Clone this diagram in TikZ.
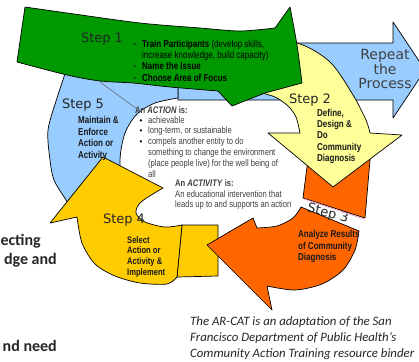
\documentclass[tikz,border=0pt]{standalone}
\usepackage{fontspec}
\setmainfont{Liberation Sans}
\newfontfamily\stepfont{DejaVu Sans}
\newfontfamily\narrowfont[FakeStretch=0.8]{Liberation Sans}
\newfontfamily\calfont{Carlito}
\definecolor{cgreen}{RGB}{0,153,0}
\definecolor{cblue}{RGB}{153,204,255}
\definecolor{cyellow}{RGB}{255,255,153}
\definecolor{corange}{RGB}{255,102,0}
\definecolor{cgold}{RGB}{255,204,0}
\definecolor{cpink}{RGB}{235,160,200}
\tikzset{
  outl/.style={draw=black, line width=0.7pt, line join=round},
  gshape/.style={outl, fill=cgreen},
  bshape/.style={outl, fill=cblue},
  yshape/.style={outl, fill=cyellow},
  oshape/.style={outl, fill=corange},
  kshape/.style={outl, fill=cgold},
  steplbl/.style={font={\stepfont\fontsize{13}{13}\selectfont}, text=black!85, inner sep=0, anchor=base},
  replbl/.style={font={\stepfont\fontsize{14}{14}\selectfont}, text=black!75, inner sep=0, anchor=base},
  bn/.style={font={\narrowfont\bfseries\fontsize{10}{11}\selectfont}, text=black!90, inner sep=0, anchor=base west},
  bns/.style={font={\narrowfont\bfseries\fontsize{9.5}{11}\selectfont}, text=black!90, inner sep=0, anchor=base west},
  rn/.style={font={\narrowfont\fontsize{10}{11}\selectfont}, text=black, inner sep=0, anchor=base west},
  cn/.style={font={\narrowfont\fontsize{9.5}{11}\selectfont}, text=black!75, inner sep=0, anchor=base west},
  dot/.style={font={\fontsize{6}{6}\selectfont}, inner sep=0, anchor=base},
  cdot/.style={font={\fontsize{8}{8}\selectfont}, inner sep=0, anchor=base},
  sidetxt/.style={font={\calfont\bfseries\fontsize{16}{16}\selectfont}, text=black!85, inner sep=0, anchor=base east},
  captxt/.style={font={\calfont\itshape\fontsize{12.8}{14}\selectfont}, text=black!85, inner sep=0, anchor=base west},
}
\begin{document}
\begin{tikzpicture}[x=1pt,y=-1pt]
\useasboundingbox (0,0) rectangle (419,361);
\clip (0,0) rectangle (419,361);
\fill[white] (0,0) rectangle (419,361);

% Repeat the Process arrow
\path[bshape] (178,43) -- (393,43) -- (393,22) -- (425,70) -- (393,118) -- (393,100) -- (178,100) -- cycle;

% Step 4 tail (behind orange head)
\path[kshape] (182,225) -- (218,225) -- (218,276) -- (177,277) -- cycle;

% Step 3 lower piece
\path[oshape] (301,207) -- (359,231)
  -- plot[smooth] coordinates {(359,231) (355,250) (343,270) (322,284) (295,290) (267,286)}
  -- (272,310) -- (207,245) -- (253,218) -- (257,228)
  -- plot[smooth] coordinates {(257,228) (277,226) (293,218) (301,207)} -- cycle;

\node[steplbl, rotate=-14] (s3) at (327,217) {Step 3};

% Step 3 upper piece (behind yellow head)
\path[oshape] (308,150) -- (307,167) -- (303,198) -- (365,218) -- (370,160) -- (370,150) -- cycle;
\draw[cpink, line width=0.8pt] (304,199) -- (364,219);

% Step 2 yellow arrow
\path[yshape] plot[smooth] coordinates {(245,38) (297,43) (330,62) (353,95) (366,120) (370,133)}
  -- (402,135) -- (333,187) -- (268,133) -- (300,133)
  -- plot[smooth] coordinates {(300,133) (296,117) (288,106) (275,97) (258,92)} -- cycle;

% Step 5 blue arrow
\path[bshape] plot[smooth] coordinates {(68,65) (57,98) (48,130) (50,160) (54,180) (66,200) (80,222)}
  -- (135,225)
  -- plot[smooth] coordinates {(135,225) (123,195) (120,160) (125,133) (137,114) (155,103) (178,98)}
  -- (178,60) -- cycle;

% Step 4 gold arrow
\path[kshape] (103,157) -- (163,188)
  -- plot[smooth] coordinates {(163,188) (141,202) (136,213) (145,222) (165,227) (182,225)}
  -- (177,277)
  -- plot[smooth] coordinates {(177,277) (167,284) (140,283) (115,276) (95,264) (82,243) (77,217)}
  -- (50,223) -- cycle;

% Step 1 green arrow
\path[gshape] (17,62) -- (25,7)
  -- plot[smooth] coordinates {(25,7) (67,13) (140,23) (200,28) (240,31) (275,28)}
  -- (290,7)
  -- plot[smooth] coordinates {(290,7) (297,45) (302,83)}
  -- (265,93) -- (232,106) -- (218,91)
  -- plot[smooth] coordinates {(218,91) (170,87) (133,83) (100,81) (67,75) (17,62)} -- cycle;

% callout line
\coordinate (cl1) at (100,82);
\coordinate (cl2) at (137,109);
\draw[black!70, line width=0.4pt] (cl1) -- (cl2);

% Step labels
\node[steplbl] (s1) at (102,42.5) {Step 1};
\node[steplbl] (s2) at (310,103) {Step 2};
\node[steplbl] (s4) at (124,223) {Step 4};
\node[steplbl] (s5) at (83,108) {Step 5};

\node[replbl] (r1) at (385,59) {Repeat};
\node[replbl] (r2) at (385,74) {the};
\node[replbl] (r3) at (385,88.5) {Process};

% Step 1 bullets
\node[dot] (b1) at (135,46) {\textbullet};
\node[dot] (b2) at (135,68) {\textbullet};
\node[dot] (b3) at (135,80) {\textbullet};
\node[rn] (t1a) at (142,47) {\textbf{Train Participants} (develop skills,};
\node[rn] (t1b) at (142,58) {increase knowledge, build capacity)};
\node[rn] (t1c) at (142,69.5) {\textbf{Name the Issue}};
\node[rn] (t1d) at (142,81) {\textbf{Choose Area of Focus}};

% Step 2 text
\node[bn] (t2a) at (317,116) {Define,};
\node[bn] (t2b) at (317,127) {Design \&};
\node[bn] (t2c) at (317,138.5) {Do};
\node[bn] (t2d) at (317,150) {Community};
\node[bn] (t2e) at (317,161.5) {Diagnosis};

% Step 3 text
\node[bn] (t3a) at (298,237) {Analyze Results};
\node[bn] (t3b) at (298,249) {of Community};
\node[bn] (t3c) at (298,260.5) {Diagnosis};

% Step 4 text
\node[bns] (t4a) at (127,243) {Select};
\node[bns] (t4b) at (127,253.5) {Action or};
\node[bns] (t4c) at (127,264) {Activity \&};
\node[bns] (t4d) at (127,275) {Implement};

% Step 5 text
\node[bn] (t5a) at (78,123) {Maintain \&};
\node[bn] (t5b) at (78,135) {Enforce};
\node[bn] (t5c) at (78,146.5) {Action or};
\node[bn] (t5d) at (78,158) {Activity};

% centre text
\node[cn] (ca) at (135,113) {\textbf{An \textit{ACTION} is:}};
\node[cdot] (cd1) at (141,123) {\textbullet};
\node[cdot] (cd2) at (141,133.5) {\textbullet};
\node[cdot] (cd3) at (141,144) {\textbullet};
\node[cn] (cb1) at (148,123) {achievable};
\node[cn] (cb2) at (148,133.5) {long-term, or sustainable};
\node[cn] (cb3) at (148,144) {compels another entity to do};
\node[cn] (cb4) at (148,155) {something to change the environment};
\node[cn] (cb5) at (148,166) {(place people live) for the well being of};
\node[cn] (cb6) at (148,177) {all};
\node[cn] (cc) at (175,186.5) {\textbf{An \textit{ACTIVITY} is:}};
\node[cn] (cc1) at (175,197) {An educational intervention that};
\node[cn] (cc2) at (175,207.5) {leads up to and supports an action};

% side text (cut off)
\node[sidetxt] (l1) at (41,245) {ecting};
\node[sidetxt] (l2) at (57,264) {dge and};
\node[sidetxt] (l3) at (57,351) {nd need};

% caption
\node[captxt] (p1) at (190,325) {The AR-CAT is an adaptation of the San};
\node[captxt] (p2) at (190,341) {Francisco Department of Public Health’s};
\node[captxt] (p3) at (190,357) {Community Action Training resource binder};
\end{tikzpicture}
\end{document}
